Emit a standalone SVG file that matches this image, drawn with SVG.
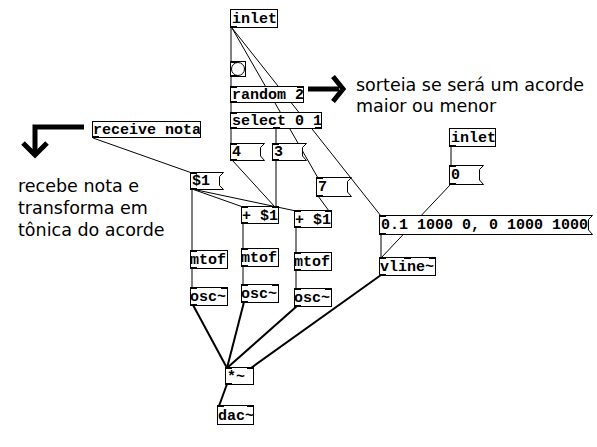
<svg xmlns="http://www.w3.org/2000/svg" width="597" height="447" viewBox="0 0 597 447">
<style>
.b{fill:#fff;stroke:#000;stroke-width:1}
.t{font-family:"Liberation Mono",monospace;font-weight:bold;font-size:15px;fill:#000}
.n{fill:#000}
.c{stroke:#000;stroke-width:1;fill:none}
.s{stroke:#000;stroke-width:2;fill:none}
.cm{font-family:"DejaVu Sans",sans-serif;font-size:17.5px;fill:#000}
.ar{fill:none;stroke:#000;stroke-width:5}
</style>
<rect width="597" height="447" fill="#fff"/>
<g id="connectors">
<line class="c" x1="231" y1="28" x2="231" y2="62"/>
<line class="c" x1="232" y1="28" x2="318" y2="178"/>
<line class="c" x1="232" y1="28" x2="381" y2="216"/>
<line class="c" x1="231" y1="77" x2="231" y2="87"/>
<line class="c" x1="231" y1="103" x2="231" y2="113"/>
<line class="c" x1="231" y1="128" x2="231" y2="144"/>
<line class="c" x1="276" y1="128" x2="276" y2="207"/>
<line class="c" x1="232" y1="160" x2="275" y2="207"/>
<line class="c" x1="318" y1="196" x2="329" y2="211"/>
<line class="c" x1="93" y1="138" x2="192" y2="173"/>
<line class="c" x1="192" y1="189" x2="243" y2="207"/>
<line class="c" x1="192" y1="189" x2="296" y2="211"/>
<line class="c" x1="192" y1="189" x2="192" y2="251"/>
<line class="c" x1="243" y1="224" x2="243" y2="249"/>
<line class="c" x1="296" y1="228" x2="296" y2="253"/>
<line class="c" x1="192" y1="268" x2="192" y2="288"/>
<line class="c" x1="243" y1="266" x2="243" y2="285"/>
<line class="c" x1="296" y1="270" x2="296" y2="289"/>
<line class="s" x1="193" y1="305" x2="227" y2="368"/>
<line class="s" x1="244" y1="302" x2="227" y2="368"/>
<line class="s" x1="297" y1="306" x2="227" y2="368"/>
<line class="s" x1="381" y1="275" x2="251" y2="368"/>
<line class="s" x1="227" y1="384" x2="219" y2="406"/>
<line class="c" x1="451" y1="146" x2="451" y2="166"/>
<line class="c" x1="451" y1="184" x2="381" y2="258"/>
<line class="c" x1="381" y1="234" x2="381" y2="258"/>
</g>
<g id="inlet1"><rect class="b" x="230.5" y="9.5" width="47" height="18"/><text class="t" x="232" y="23">inlet</text><rect class="n" x="230" y="26" width="7" height="2"/></g>
<g id="bang"><rect class="b" x="230.5" y="61.5" width="15" height="15"/><circle class="b" cx="238" cy="69" r="6.5"/><rect class="n" x="230" y="61" width="7" height="2"/><rect class="n" x="230" y="75" width="7" height="2"/></g>
<g id="random"><rect class="b" x="230.5" y="86.5" width="73" height="16"/><text class="t" x="232" y="99">random 2</text><rect class="n" x="230" y="86" width="7" height="2"/><rect class="n" x="297" y="86" width="7" height="2"/><rect class="n" x="230" y="101" width="7" height="2"/></g>
<g id="select"><rect class="b" x="230.5" y="112.5" width="91" height="16"/><text class="t" x="232" y="125">select 0 1</text><rect class="n" x="230" y="112" width="7" height="2"/><rect class="n" x="230" y="127" width="7" height="2"/><rect class="n" x="273" y="127" width="7" height="2"/><rect class="n" x="315" y="127" width="7" height="2"/></g>
<g id="msg4"><path class="b" d="M230.5 143.5H264.5L260.5 147.5V156L264.5 160.5H230.5Z"/><text class="t" x="232" y="156">4</text><rect class="n" x="230" y="143" width="7" height="2"/><rect class="n" x="230" y="159" width="7" height="2"/></g>
<g id="msg3"><path class="b" d="M272.5 143.5H306.5L302.5 147.5V156L306.5 160.5H272.5Z"/><text class="t" x="274" y="156">3</text><rect class="n" x="272" y="143" width="7" height="2"/><rect class="n" x="272" y="159" width="7" height="2"/></g>
<g id="receive"><rect class="b" x="92.5" y="121.5" width="108" height="16"/><text class="t" x="93" y="134">receive nota</text><rect class="n" x="92" y="136" width="7" height="2"/></g>
<g id="msgd1"><path class="b" d="M190.5 172.5H223.5L219.5 176.5V185.5L223.5 189.5H190.5Z"/><text class="t" x="192" y="185">$1</text><rect class="n" x="190" y="172" width="7" height="2"/><rect class="n" x="190" y="188" width="7" height="2"/></g>
<g id="msg7"><path class="b" d="M316.5 177.5H351.5L347.5 181.5V192L351.5 196.5H316.5Z"/><text class="t" x="318" y="191">7</text><rect class="n" x="316" y="177" width="7" height="2"/><rect class="n" x="316" y="195" width="7" height="2"/></g>
<g id="plus1"><rect class="b" x="241.5" y="206.5" width="37" height="17"/><text class="t" x="242" y="220">+ $1</text><rect class="n" x="241" y="206" width="7" height="2"/><rect class="n" x="272" y="206" width="7" height="2"/><rect class="n" x="241" y="222" width="7" height="2"/></g>
<g id="plus2"><rect class="b" x="294.5" y="210.5" width="37" height="17"/><text class="t" x="295" y="224">+ $1</text><rect class="n" x="294" y="210" width="7" height="2"/><rect class="n" x="325" y="210" width="7" height="2"/><rect class="n" x="294" y="226" width="7" height="2"/></g>
<g id="mtof1"><rect class="b" x="190.5" y="250.5" width="37" height="18"/><text class="t" x="190" y="264">mtof</text><rect class="n" x="190" y="250" width="7" height="2"/><rect class="n" x="190" y="267" width="7" height="2"/></g>
<g id="mtof2"><rect class="b" x="241.5" y="248.5" width="37" height="18"/><text class="t" x="241" y="262">mtof</text><rect class="n" x="241" y="248" width="7" height="2"/><rect class="n" x="241" y="265" width="7" height="2"/></g>
<g id="mtof3"><rect class="b" x="294.5" y="252.5" width="37" height="18"/><text class="t" x="294" y="266">mtof</text><rect class="n" x="294" y="252" width="7" height="2"/><rect class="n" x="294" y="269" width="7" height="2"/></g>
<g id="osc1"><rect class="b" x="190.5" y="287.5" width="37" height="18"/><text class="t" x="190" y="301">osc~</text><rect class="n" x="190" y="287" width="7" height="2"/><rect class="n" x="221" y="287" width="7" height="2"/><rect class="n" x="190" y="304" width="7" height="2"/></g>
<g id="osc2"><rect class="b" x="241.5" y="284.5" width="37" height="18"/><text class="t" x="241" y="298">osc~</text><rect class="n" x="241" y="284" width="7" height="2"/><rect class="n" x="272" y="284" width="7" height="2"/><rect class="n" x="241" y="301" width="7" height="2"/></g>
<g id="osc3"><rect class="b" x="294.5" y="288.5" width="37" height="18"/><text class="t" x="294" y="302">osc~</text><rect class="n" x="294" y="288" width="7" height="2"/><rect class="n" x="325" y="288" width="7" height="2"/><rect class="n" x="294" y="305" width="7" height="2"/></g>
<g id="mul"><rect class="b" x="225.5" y="367.5" width="28" height="17"/><text class="t" x="227" y="381">*~</text><rect class="n" x="225" y="367" width="7" height="2"/><rect class="n" x="247" y="367" width="7" height="2"/><rect class="n" x="225" y="383" width="7" height="2"/></g>
<g id="dac"><rect class="b" x="217.5" y="405.5" width="36" height="19"/><text class="t" x="218" y="420">dac~</text><rect class="n" x="217" y="405" width="7" height="2"/><rect class="n" x="247" y="405" width="7" height="2"/></g>
<g id="inlet2"><rect class="b" x="449.5" y="128.5" width="46" height="18"/><text class="t" x="451" y="142">inlet</text><rect class="n" x="449" y="145" width="7" height="2"/></g>
<g id="msg0"><path class="b" d="M449.5 165.5H483.5L479.5 169.5V180L483.5 184.5H449.5Z"/><text class="t" x="451" y="179">0</text><rect class="n" x="449" y="165" width="7" height="2"/><rect class="n" x="449" y="183" width="7" height="2"/></g>
<g id="msgenv"><path class="b" d="M379.5 215.5H592.5L588.5 219.5V230L592.5 234.5H379.5Z"/><text class="t" x="381" y="229">0.1 1000 0, 0 1000 1000</text><rect class="n" x="379" y="215" width="7" height="2"/><rect class="n" x="379" y="233" width="7" height="2"/></g>
<g id="vline"><rect class="b" x="379.5" y="257.5" width="56" height="18"/><text class="t" x="380" y="271">vline~</text><rect class="n" x="379" y="257" width="7" height="2"/><rect class="n" x="404" y="257" width="7" height="2"/><rect class="n" x="429" y="257" width="7" height="2"/><rect class="n" x="379" y="274" width="7" height="2"/></g>
<g id="comment-right"><path class="ar" d="M308 89H339"/><path class="ar" d="M333 76.5L343 89L333 101.5"/><text class="cm" x="356" y="91">sorteia se será um acorde</text><text class="cm" x="356" y="112">maior ou menor</text></g>
<g id="comment-left"><path class="ar" d="M84 127H35V152"/><path class="ar" d="M23 143L35 155L47 143"/><text class="cm" x="18" y="192">recebe nota e</text><text class="cm" x="18" y="214">transforma em</text><text class="cm" x="18" y="236">tônica do acorde</text></g>
</svg>
